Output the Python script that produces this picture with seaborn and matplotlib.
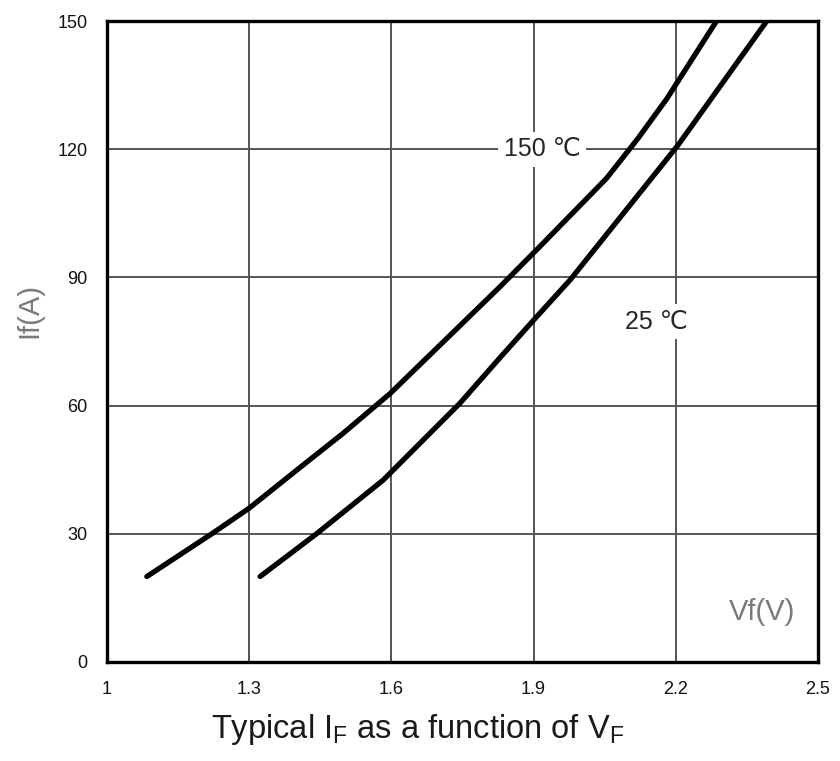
import pandas as pd
import matplotlib.pyplot as plt
import seaborn as sns

# forward voltage (V) vs forward current (A)
vf_150 = [1.084, 1.221, 1.30, 1.407, 1.498, 1.598, 1.829, 1.913, 2.054, 2.12, 2.181, 2.286]
if_150 = [20, 30, 36, 45.5, 53.5, 62.9, 87.8, 97.2, 113.2, 122.5, 131.8, 150]

vf_25 = [1.323, 1.442, 1.583, 1.745, 1.829, 1.90, 1.977, 2.205, 2.392]
if_25 = [20, 30, 42.6, 60.6, 71.2, 80, 89.4, 121, 150]

x_ticks = [1, 1.3, 1.6, 1.9, 2.2, 2.5]
x_labels = ["1", "1.3", "1.6", "1.9", "2.2", "2.5"]
y_ticks = [0, 30, 60, 90, 120, 150]

df = pd.concat([
    pd.DataFrame({"Vf": vf_150, "If": if_150, "T": "150"}),
    pd.DataFrame({"Vf": vf_25, "If": if_25, "T": "25"}),
])

sns.set_style("white")
plt.rcParams['font.family'] = ['Liberation Sans', 'DejaVu Sans']

fig = plt.figure(figsize=(8.4, 7.61), dpi=100)
ax = fig.add_axes([0.1274, 0.1301, 0.8464, 0.8423])

ax.grid(True, color="#555555", linewidth=1.4)
ax.set_axisbelow(True)

for t, d in df.groupby("T"):
    sns.lineplot(data=d, x="Vf", y="If", sort=False, estimator=None,
                 color="black", linewidth=3.8, ax=ax, zorder=3)

ax.set_xlim(1, 2.5)
ax.set_ylim(0, 150)
ax.set_xticks(x_ticks)
ax.set_xticklabels(x_labels)
ax.set_yticks(y_ticks)
ax.tick_params(axis="both", length=0, labelsize=13, colors="#111111")
ax.tick_params(axis="x", pad=14)
ax.tick_params(axis="y", pad=14)

for s in ax.spines.values():
    s.set_color("black")
    s.set_linewidth(2.4)

ax.set_ylabel("If(A)", fontsize=21, color="#7a7a7a")
ax.yaxis.set_label_coords(-0.09, 0.548)
ax.set_xlabel(r"Typical $\mathregular{I_F}$ as a function of $\mathregular{V_F}$",
              fontsize=23.5, color="#1a1a1a")
ax.xaxis.set_label_coords(0.437, -0.078)

box = dict(facecolor="white", edgecolor="none", pad=4)
ax.text(1.918, 120, "150 ℃", fontsize=18, ha="center", va="center", bbox=box, zorder=2)
ax.text(2.16, 79.6, "25 ℃", fontsize=18, ha="center", va="center", bbox=box, zorder=2)
ax.text(2.382, 11.7, "Vf(V)", fontsize=21, color="#7a7a7a", ha="center", va="center")

plt.savefig("out.png", dpi=100)
